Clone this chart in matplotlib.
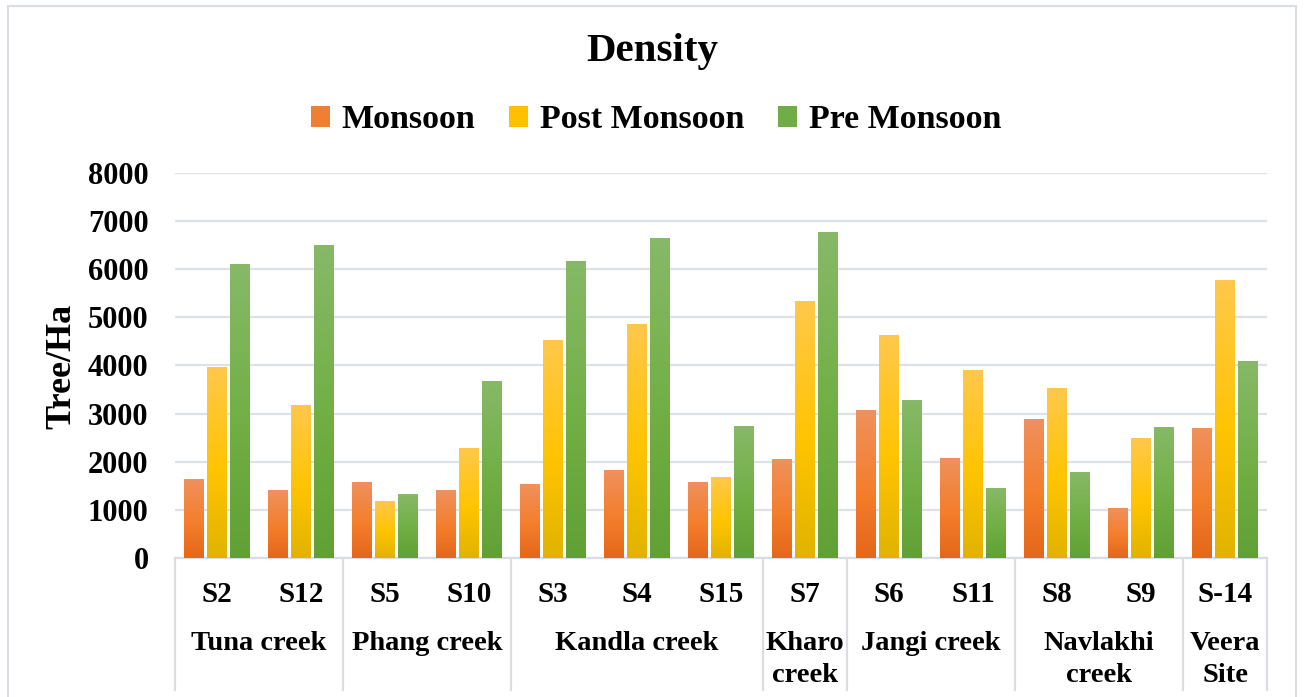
import matplotlib
matplotlib.use("Agg")
import matplotlib.pyplot as plt
import numpy as np
from matplotlib.colors import LinearSegmentedColormap
from matplotlib.patches import Patch, Rectangle
from matplotlib.lines import Line2D

# ---- data ----
sites = ["S2", "S12", "S5", "S10", "S3", "S4", "S15", "S7", "S6", "S11", "S8", "S9", "S-14"]
groups = ["Tuna creek", "Phang creek", "Kandla creek", "Kharo\ncreek",
          "Jangi creek", "Navlakhi\ncreek", "Veera\nSite"]
group_sizes = [2, 2, 3, 1, 2, 2, 1]
series_names = ["Monsoon", "Post Monsoon", "Pre Monsoon"]
monsoon = [1640, 1410, 1580, 1410, 1540, 1830, 1580, 2060, 3070, 2080, 2890, 1040, 2700]
post_monsoon = [3970, 3180, 1190, 2290, 4530, 4860, 1680, 5340, 4630, 3900, 3530, 2490, 5770]
pre_monsoon = [6100, 6500, 1330, 3680, 6170, 6640, 2740, 6770, 3280, 1450, 1790, 2720, 4090]
y_ticks = [0, 1000, 2000, 3000, 4000, 5000, 6000, 7000, 8000]

# gradient stops (bottom, middle, top) per series
gradients = [
    ["#E4671A", "#F47E2C", "#EF915E"],
    ["#E1B300", "#FFC400", "#FFC84C"],
    ["#61A034", "#71AF45", "#87B968"],
]
base_colors = ["#F07F32", "#FFC000", "#70AD47"]

FONT = "Liberation Serif"
plt.rcParams["font.family"] = [FONT, "DejaVu Serif"]
plt.rcParams["font.weight"] = "bold"

W, H = 1304, 697
fig = plt.figure(figsize=(W / 100, H / 100), dpi=100)
fig.patch.set_facecolor("white")

# chart frame
fig.patches.append(Rectangle((8 / W, -0.05), (1296 - 8) / W, 1 - 6 / H + 0.05,
                             transform=fig.transFigure, fill=False,
                             edgecolor="#DADDE3", linewidth=1.5))

ax_left, ax_right = 175 / W, 1267 / W
ax_bottom, ax_top = 1 - 558 / H, 1 - 172.7 / H
ax = fig.add_axes([ax_left, ax_bottom, ax_right - ax_left, ax_top - ax_bottom])

x = np.arange(len(sites))
bar_w = 0.238
step = 0.274
values = [monsoon, post_monsoon, pre_monsoon]
grad = np.linspace(0, 1, 256).reshape(-1, 1)

for i, (vals, stops) in enumerate(zip(values, gradients)):
    cmap = LinearSegmentedColormap.from_list(f"g{i}", [(0, stops[0]), (0.45, stops[1]), (1, stops[2])])
    bars = ax.bar(x + (i - 1) * step, vals, width=bar_w, color=base_colors[i], zorder=2, linewidth=0)
    for b in bars:
        x0, w, h = b.get_x(), b.get_width(), b.get_height()
        im = ax.imshow(grad, cmap=cmap, origin="lower", aspect="auto",
                       extent=[x0, x0 + w, 0, h], zorder=3, interpolation="bilinear")
        im.set_clip_path(b)

ax.set_xlim(-0.5, len(sites) - 0.5)
ax.set_ylim(0, 8000)
ax.set_yticks(y_ticks)
ax.set_yticklabels([str(t) for t in y_ticks], fontsize=22, fontweight="bold")
ax.tick_params(axis="y", length=0, pad=19)
ax.set_xticks([])
ax.grid(axis="y", color="#DEE2E7", linewidth=1.6, zorder=0)
ax.set_axisbelow(True)
for s in ["top", "right", "left"]:
    ax.spines[s].set_visible(False)
ax.spines["bottom"].set_color("#DADDE3")
ax.spines["bottom"].set_linewidth(1.6)

fig.text(62 / W, 1 - 366 / H, "Tree/Ha", rotation=90, ha="center", va="center",
         fontsize=26, fontweight="bold")

# two-level category axis
axis_h = 558 - 172.7
tr = ax.get_xaxis_transform()
y_site = -(594 - 558) / axis_h
y_group = -(631 - 558) / axis_h
y_sep_end = -(690 - 558) / axis_h
for xi, s in zip(x, sites):
    ax.text(xi, y_site, s, transform=tr, ha="center", va="center",
            fontsize=21, fontweight="bold", clip_on=False)

start = 0
bounds = [-0.5]
for g, n in zip(groups, group_sizes):
    center = start + (n - 1) / 2
    ax.text(center, y_group, g, transform=tr, ha="center", va="top",
            fontsize=20.5, fontweight="bold", linespacing=1.38, clip_on=False)
    start += n
    bounds.append(start - 0.5)
for bx in bounds:
    ax.add_line(Line2D([bx, bx], [0, y_sep_end], transform=tr, color="#DADDE3",
                       linewidth=1.6, clip_on=False))

# title and legend
fig.text(652 / W, 1 - 51 / H, "Density", ha="center", va="center", fontsize=29.5, fontweight="bold")
handles = [Patch(facecolor=c, edgecolor="none") for c in base_colors]
fig.legend(handles, series_names, loc="center", bbox_to_anchor=(656 / W, 1 - 120 / H),
           ncol=3, frameon=False, prop={"family": FONT, "weight": "bold", "size": 24.5},
           handlelength=0.55, handleheight=0.55, handletextpad=0.35, columnspacing=1.0)

fig.savefig("out.png", dpi=100, facecolor="white")
